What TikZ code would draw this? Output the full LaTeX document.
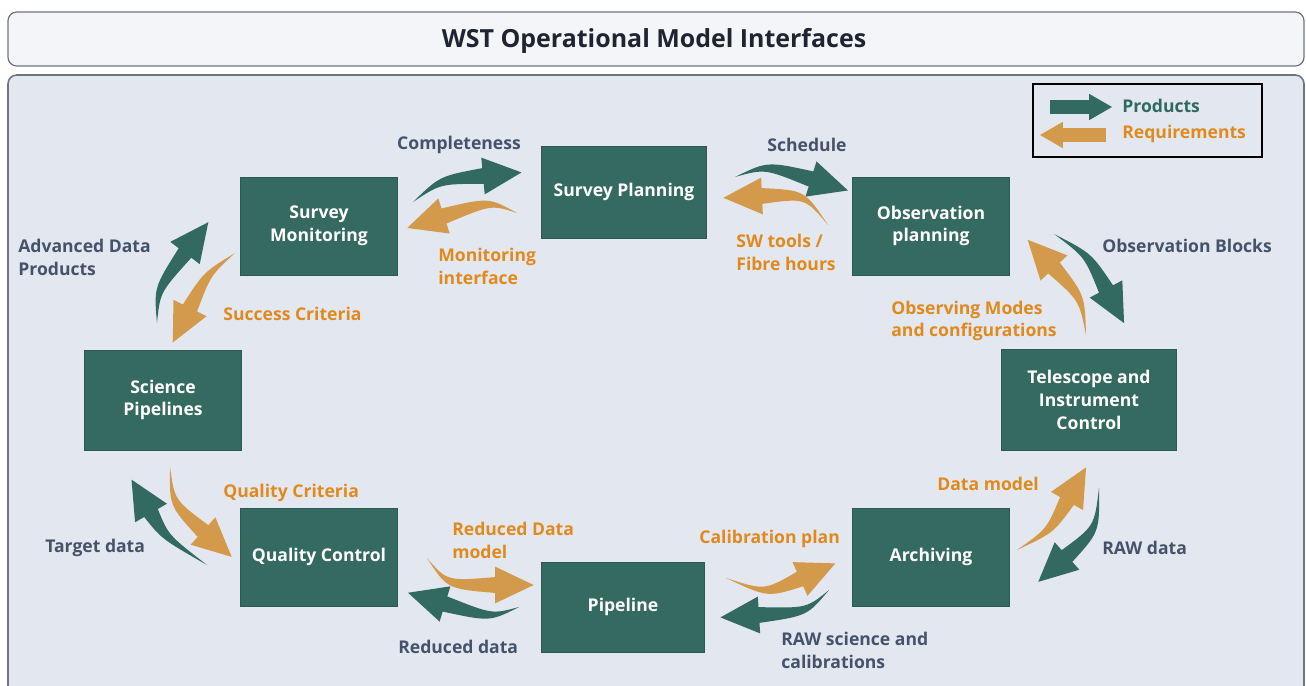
\documentclass[tikz,border=0pt]{standalone}
\usepackage{fontspec}
\setmainfont{Open Sans}
\usetikzlibrary{arrows.meta,calc}
\definecolor{unitgreen}{HTML}{356A61}
\definecolor{unitedge}{HTML}{2C5A52}
\definecolor{prodgreen}{HTML}{336A60}
\definecolor{reqtan}{HTML}{D49A4C}
\definecolor{reqtext}{HTML}{E08A1E}
\definecolor{labgray}{HTML}{45536A}
\definecolor{legtext}{HTML}{2F6A5F}
\definecolor{titletext}{HTML}{1F2430}
\definecolor{panelfill}{HTML}{E3E7EF}
\definecolor{titlefill}{HTML}{F3F5F9}
\definecolor{frameline}{HTML}{6E7480}
% tapered curved block arrow: colour, tail point, bend point, head base
\newcommand{\flowarrow}[4]{%
  \fill[#1] (#2) .. controls ($(#3)!2.2pt!-90:(#4)$) .. ($(#4)!4.5pt!90:(#3)$)
    -- ($(#4)!10.5pt!90:(#3)$) -- ($(#4)!-22pt!(#3)$) -- ($(#4)!10.5pt!-90:(#3)$)
    -- ($(#4)!4.5pt!-90:(#3)$) .. controls ($(#3)!2.2pt!90:(#4)$) .. (#2) -- cycle;}

\begin{document}
\begin{tikzpicture}[x=0.02cm, y=-0.02cm, font=\fontsize{10}{13}\selectfont\bfseries,
  unit/.style={draw=unitedge, fill=unitgreen, text=white, align=center,
    minimum width=3.14cm, minimum height=1.96cm, inner sep=2pt},
  lab/.style={text=labgray, align=left, inner sep=0pt, anchor=west},
  reqlab/.style={lab, text=reqtext},
  legarrow/.style={line width=7.5pt, -{Triangle[width=15pt,length=13pt,line width=0pt]}}]
\useasboundingbox (0,0) rectangle (1306,686);
% title bar and panel
\draw[frameline, line width=0.7pt, fill=titlefill, rounded corners=5pt] (8,12) rectangle (1304,66);
\draw[frameline, line width=0.9pt, fill=panelfill, rounded corners=5pt] (8,75) rectangle (1304,700);
\node[font=\fontsize{14.2}{17}\selectfont\bfseries, text=titletext] (title) at (654,41) {WST Operational Model Interfaces};
% legend
\node[draw=black, line width=0.8pt, minimum width=4.58cm, minimum height=1.46cm] (legend) at (1147.5,120.5) {};
\coordinate (lp0) at (1050,107); \coordinate (lp1) at (1112,107);
\coordinate (lr0) at (1106,135); \coordinate (lr1) at (1040,135);
\draw[legarrow, prodgreen] (lp0) -- (lp1);
\draw[legarrow, reqtan] (lr0) -- (lr1);
\node[lab, text=legtext] (lgprod) at (1122,106) {Products};
\node[reqlab] (lgreq) at (1122,134) {Requirements};
% units
\node[unit, minimum width=3.3cm, minimum height=1.84cm] (SP) at (624,192) {Survey Planning};
\node[unit] (SM) at (319,226) {Survey\\Monitoring};
\node[unit] (OP) at (931,226) {Observation\\planning};
\node[unit, minimum height=2cm] (SciP) at (163,400) {Science\\Pipelines};
\node[unit, minimum width=3.5cm, minimum height=2.02cm] (TIC) at (1089,400) {Telescope and\\Instrument\\Control};
\node[unit] (QC) at (319,557) {Quality Control};
\node[unit] (Arch) at (931,557) {Archiving};
\node[unit, minimum width=3.26cm, minimum height=1.8cm] (Pipe) at (623,607) {Pipeline};
% arrow ends (tail point, head base)
\coordinate (compl0) at (413,202);  \coordinate (compl1) at (483,176);
\coordinate (monif0) at (517,213);  \coordinate (monif1) at (444,216);
\coordinate (sched0) at (735,177);  \coordinate (sched1) at (811,179);
\coordinate (swt0) at (828,225);    \coordinate (swt1) at (762,196);
\coordinate (obsb0) at (1054,234);  \coordinate (obsb1) at (1106,289);
\coordinate (obsm0) at (1086,335);  \coordinate (obsm1) at (1054,268);
\coordinate (dm0) at (1017,550);    \coordinate (dm1) at (1067,501);
\coordinate (rawd0) at (1099,488);  \coordinate (rawd1) at (1067,556);
\coordinate (cal0) at (726,578);    \coordinate (cal1) at (800,579);
\coordinate (rawsc0) at (829,590);  \coordinate (rawsc1) at (759,615);
\coordinate (redm0) at (427,558);   \coordinate (redm1) at (495,585);
\coordinate (red0) at (519,607);    \coordinate (red1) at (445,604);
\coordinate (qcr0) at (170,467);    \coordinate (qcr1) at (203,531);
\coordinate (tgt0) at (207,565);    \coordinate (tgt1) at (151,513);
\coordinate (adv0) at (157,323);    \coordinate (adv1) at (185,253);
\coordinate (succ0) at (235,253);   \coordinate (succ1) at (190,308);
% products (green) and requirements (tan)
\flowarrow{prodgreen}{compl0}{440,180}{compl1}
\flowarrow{reqtan}{monif0}{490,201}{monif1}
\flowarrow{prodgreen}{sched0}{766,165}{sched1}
\flowarrow{reqtan}{swt0}{805,194}{swt1}
\flowarrow{prodgreen}{obsb0}{1088,255}{obsb1}
\flowarrow{reqtan}{obsm0}{1082,298}{obsm1}
\flowarrow{reqtan}{dm0}{1050,531}{dm1}
\flowarrow{prodgreen}{rawd0}{1097,529}{rawd1}
\flowarrow{reqtan}{cal0}{766,594}{cal1}
\flowarrow{prodgreen}{rawsc0}{807,612}{rawsc1}
\flowarrow{reqtan}{redm0}{447,585}{redm1}
\flowarrow{prodgreen}{red0}{491,618}{red1}
\flowarrow{reqtan}{qcr0}{172,503}{qcr1}
\flowarrow{prodgreen}{tgt0}{165,537}{tgt1}
\flowarrow{prodgreen}{adv0}{157,290}{adv1}
\flowarrow{reqtan}{succ0}{207,274}{succ1}
% labels
\node[text=labgray] (lcompl) at (459,145) {Completeness};
\node[text=labgray] (lsched) at (807,145) {Schedule};
\node[reqlab] (lmonif) at (438,266) {Monitoring\\interface};
\node[reqlab] (lswt) at (736,252) {SW tools /\\Fibre hours};
\node[lab] (ladv) at (18,257) {Advanced Data\\Products};
\node[reqlab] (lsucc) at (223,314) {Success Criteria};
\node[lab] (lobsb) at (1102,246) {Observation Blocks};
\node[reqlab] (lobsm) at (891,321) {Observing Modes\\and configurations};
\node[reqlab] (lqcr) at (223,493) {Quality Criteria};
\node[lab] (ltgt) at (45,548) {Target data};
\node[reqlab] (lredm) at (452,540) {Reduced Data\\model};
\node[lab] (lred) at (398,647) {Reduced data};
\node[reqlab] (lcal) at (699,539) {Calibration plan};
\node[lab] (lrawsc) at (781,650) {RAW science and\\calibrations};
\node[reqlab] (ldm) at (937,484) {Data model};
\node[lab] (lrawd) at (1102,548) {RAW data};
\end{tikzpicture}
\end{document}
